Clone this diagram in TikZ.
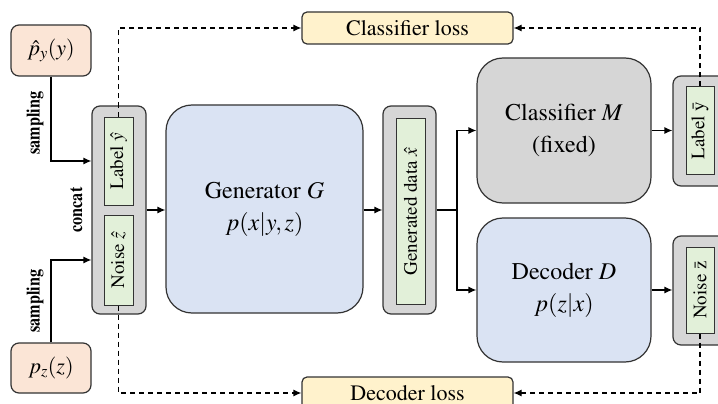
\documentclass[tikz,border=0pt]{standalone}
\usepackage[T1]{fontenc}
\usepackage{mathptmx}
\usepackage{graphicx}
\usetikzlibrary{arrows.meta}
\definecolor{peach}{HTML}{FBE5D6}
\definecolor{lossy}{HTML}{FFF2CC}
\definecolor{blu}{HTML}{DAE3F3}
\definecolor{gry}{HTML}{D6D6D6}
\definecolor{grn}{HTML}{E2F0D9}
\definecolor{edge}{HTML}{333333}
\newcommand{\narrowtxt}[1]{\scalebox{0.85}[1]{#1}}
\tikzset{
  box/.style={draw=edge, line width=1.2pt, inner sep=0pt, align=center},
  distbox/.style={box, fill=peach, rounded corners=8pt, font=\fontsize{22}{26}\selectfont},
  lossbox/.style={box, fill=lossy, rounded corners=5pt, font=\fontsize{22}{26}\selectfont},
  bigbox/.style={box, rounded corners=26pt, font=\fontsize{24}{30}\selectfont},
  graybox/.style={box, fill=gry, rounded corners=8pt},
  greenbox/.style={box, fill=grn, line width=1pt},
  vtext/.style={rotate=90, font=\fontsize{19}{22}\selectfont, inner sep=0pt},
  conn/.style={line width=1.2pt, -{Latex[length=8pt,width=7pt]}},
  dconn/.style={conn, dash pattern=on 5pt off 4pt},
  lbl/.style={font=\bfseries\fontsize{19}{22}\selectfont, rotate=90, inner sep=0pt}
}
\begin{document}
\begin{tikzpicture}[x=1pt,y=-1pt]
\useasboundingbox (0,0) rectangle (718,404);
\clip (0,0) rectangle (718,404);
\fill[white] (0,0) rectangle (718,404);
% distributions
\node[distbox, minimum width=80pt, minimum height=51pt] (py) at (51,50.5) {$\hat{p}_y(y)$};
\node[distbox, minimum width=80pt, minimum height=50pt] (pz) at (51,368) {$p_z(z)$};
% concat box
\node[graybox, minimum width=54pt, minimum height=208pt] (cc) at (119,210) {};
\node[greenbox, minimum width=29pt, minimum height=88pt] (ly) at (118.5,161) {};
\node[vtext] (lyt) at (ly.center) {Label $\hat{y}$};
\node[greenbox, minimum width=29pt, minimum height=90pt] (nz) at (118.5,260) {};
\node[vtext] (nzt) at (nz.center) {Noise $\hat{z}$};
% generator
\node[bigbox, fill=blu, minimum width=197pt, minimum height=208pt] (gen) at (264.5,209) {Generator \textit{G}\\[2pt] $p(x|y,z)$};
% generated data
\node[graybox, minimum width=53pt, minimum height=208pt] (gd) at (409.5,210) {};
\node[greenbox, minimum width=29pt, minimum height=186pt] (gdi) at (410.5,211.5) {};
\node[vtext] (gdt) at (gdi.center) {Generated data $\hat{x}$};
% classifier and decoder
\node[bigbox, fill=gry, minimum width=174pt, minimum height=145pt] (cls) at (564,130.5) {Classifier \textit{M}\\[2pt](fixed)};
\node[bigbox, fill=blu, minimum width=174pt, minimum height=144pt] (dec) at (564,290) {Decoder \textit{D}\\[2pt] $p(z|x)$};
% outputs
\node[graybox, minimum width=54pt, minimum height=110pt] (lb) at (700,131) {};
\node[greenbox, minimum width=28pt, minimum height=87pt] (lbi) at (700,130.5) {};
\node[vtext] (lbt) at (lbi.center) {Label \=y};
\node[graybox, minimum width=54pt, minimum height=109pt] (nb) at (700,290.5) {};
\node[greenbox, minimum width=28pt, minimum height=86pt] (nbi) at (700,290) {};
\node[vtext] (nbt) at (nbi.center) {Noise \=z};
% losses
\node[lossbox, minimum width=211pt, minimum height=32pt] (closs) at (407.5,28) {Classifier loss};
\node[lossbox, minimum width=211pt, minimum height=32pt] (dloss) at (407.5,393) {Decoder loss};
% connectors
\draw[conn] (py.south) |- (cc.west |- ly.center);
\draw[conn] (pz.north) |- (cc.west |- nz.center);
\draw[conn] (cc.east) -- (gen.west |- cc.east);
\draw[conn] (gen.east |- gd.west) -- (gd.west);
\coordinate (sp) at (457,210);
\draw[line width=1.2pt] (gd.east) -- (sp);
\draw[conn] (sp) |- (cls.west);
\draw[conn] (sp) |- (dec.west);
\draw[conn] (cls.east) -- (lb.west |- cls.east);
\draw[conn] (dec.east) -- (nb.west |- dec.east);
% dashed loss connectors
\draw[dconn] (ly.north) |- (closs.west);
\draw[dconn] (nz.south) |- (dloss.west);
\draw[dconn] (lbi.north) |- (closs.east);
\draw[dconn] (nbi.south) |- (dloss.east);
% labels
\node[lbl] (s1) at (35,123) {\narrowtxt{sampling}};
\node[lbl] (s2) at (35,301) {\narrowtxt{sampling}};
\node[lbl] (cct) at (76,210) {\narrowtxt{concat}};
\end{tikzpicture}
\end{document}
